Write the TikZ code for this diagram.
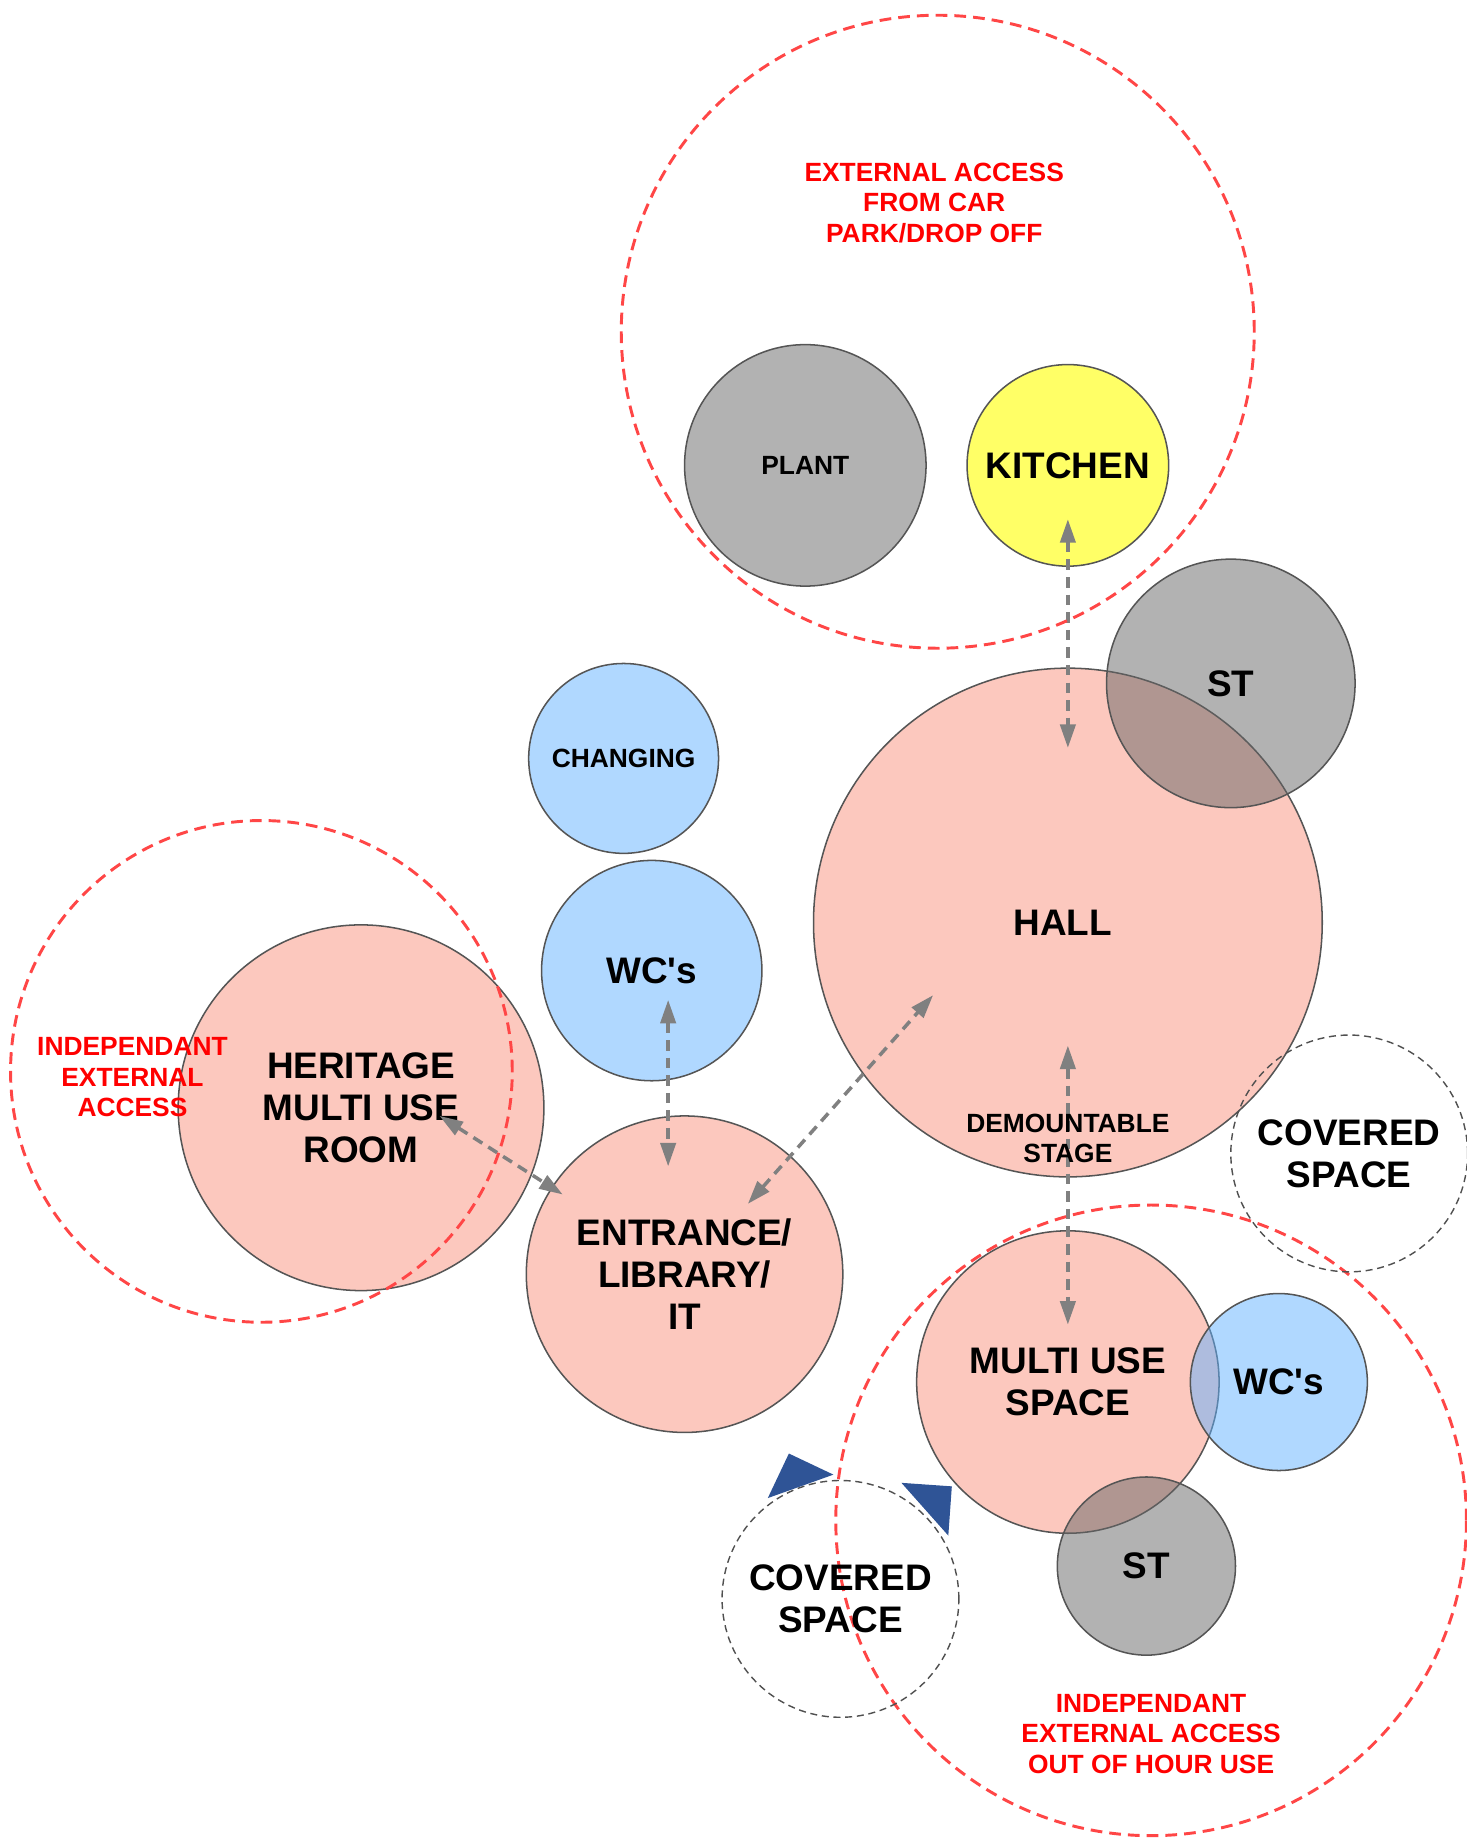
\documentclass[tikz,border=0pt]{standalone}
\usepackage{fontspec}
\setmainfont{Liberation Sans}
\usetikzlibrary{arrows.meta}
\definecolor{pinkfill}{RGB}{252,200,190}
\definecolor{graybase}{RGB}{102,102,102}
\definecolor{bluebase}{RGB}{97,177,255}
\definecolor{yellowfill}{RGB}{255,255,102}
\definecolor{linegray}{RGB}{85,85,85}
\definecolor{dashred}{RGB}{255,70,70}
\definecolor{arrowgray}{RGB}{128,128,128}
\definecolor{tri}{RGB}{47,84,150}
\definecolor{covgray}{RGB}{80,80,80}
\newcommand{\bigtxt}{\fontsize{31.5}{36}\selectfont\bfseries}
\newcommand{\smalltxt}{\fontsize{22.5}{26}\selectfont\bfseries}
\begin{document}
\begin{tikzpicture}[x=1pt,y=-1pt,
  room/.style={circle, draw=linegray, line width=1.3pt, inner sep=0pt, align=center, font=\bigtxt, text=black},
  pinkroom/.style={room, fill=pinkfill},
  grayroom/.style={room, fill=graybase, fill opacity=0.5, draw opacity=1, text opacity=1},
  blueroom/.style={room, fill=bluebase, fill opacity=0.5, draw opacity=1, text opacity=1},
  yellowroom/.style={room, fill=yellowfill},
  zone/.style={circle, draw=dashred, line width=2.5pt, dash pattern=on 10pt off 6pt, inner sep=0pt},
  covered/.style={circle, draw=covgray, line width=1.2pt, dash pattern=on 6pt off 4pt, inner sep=0pt, align=center, font=\bigtxt},
  redlabel/.style={text=red, font=\smalltxt, align=center, inner sep=0pt},
  conn/.style={draw=arrowgray, line width=3pt, dash pattern=on 9pt off 6pt, {Triangle[length=20pt,width=13pt]}-{Triangle[length=20pt,width=13pt]}},
  flag/.style={fill=tri, draw=none}
]
\useasboundingbox (0,0) rectangle (1251,1568);

% rooms
\node[pinkroom, minimum size=434pt] (hall) at (911,787) {HALL\hspace*{9pt}};
\node[grayroom, minimum size=212pt] (sttop) at (1050,583) {ST};
\node[grayroom, minimum size=206pt, font=\smalltxt] (plant) at (687,397) {PLANT};
\node[yellowroom, minimum size=172pt] (kitchen) at (911,397) {KITCHEN};
\node[blueroom, minimum size=162pt, font=\smalltxt] (changing) at (532,647) {CHANGING};
\node[blueroom, minimum size=188pt] (wcleft) at (556,828) {WC\textquotesingle s};
\node[pinkroom, minimum size=312pt] (heritage) at (308,945) {HERITAGE\\MULTI USE\\ROOM};
\node[pinkroom, minimum size=270pt] (entrance) at (584,1087) {ENTRANCE/\\LIBRARY/\\IT};
\node[pinkroom, minimum size=258pt] (multi) at (911,1179) {MULTI USE\\SPACE};
\node[blueroom, minimum size=151pt] (wcright) at (1091,1179) {WC\textquotesingle s};
\node[grayroom, minimum size=152pt] (stbot) at (978,1336) {ST};

% connectors
\coordinate (kitA) at (911,443);
\coordinate (kitB) at (911,638);
\coordinate (hmA) at (911,892);
\coordinate (hmB) at (911,1130);
\coordinate (weA) at (570,853);
\coordinate (weB) at (570,995);
\coordinate (heA) at (375,952);
\coordinate (heB) at (480,1019);
\coordinate (ehA) at (638,1027);
\coordinate (ehB) at (796,849);
\draw[conn] (kitA) -- (kitB);
\draw[conn] (hmA) -- (hmB);
\draw[conn] (weA) -- (weB);
\draw[conn] (heA) -- (heB);
\draw[conn] (ehA) -- (ehB);

% zones
\node[zone, minimum size=540pt] (zonetop) at (800,283) {};
\node[zone, minimum size=428pt] (zoneleft) at (223,914) {};
\node[zone, minimum size=538pt] (zonebot) at (982,1297) {};

% covered spaces
\node[covered, minimum size=202pt] (covright) at (1151,984) {COVERED\\SPACE};
\node[covered, minimum size=202pt] (covbot) at (717,1364) {COVERED\\SPACE};

% entrance flags
\fill[flag] (673,1240) -- (711,1258) -- (655,1278) -- cycle;
\fill[flag] (769,1265) -- (812,1268) -- (809,1310) -- cycle;

% labels
\node[font=\smalltxt, align=center, inner sep=0pt] (stage) at (911,971) {DEMOUNTABLE\\STAGE};
\node[redlabel] (lbltop) at (797,173) {EXTERNAL ACCESS\\FROM CAR\\PARK/DROP OFF};
\node[redlabel] (lblleft) at (113,919) {INDEPENDANT\\EXTERNAL\\ACCESS};
\node[redlabel] (lblbot) at (982,1479) {INDEPENDANT\\EXTERNAL ACCESS\\OUT OF HOUR USE};
\end{tikzpicture}
\end{document}
